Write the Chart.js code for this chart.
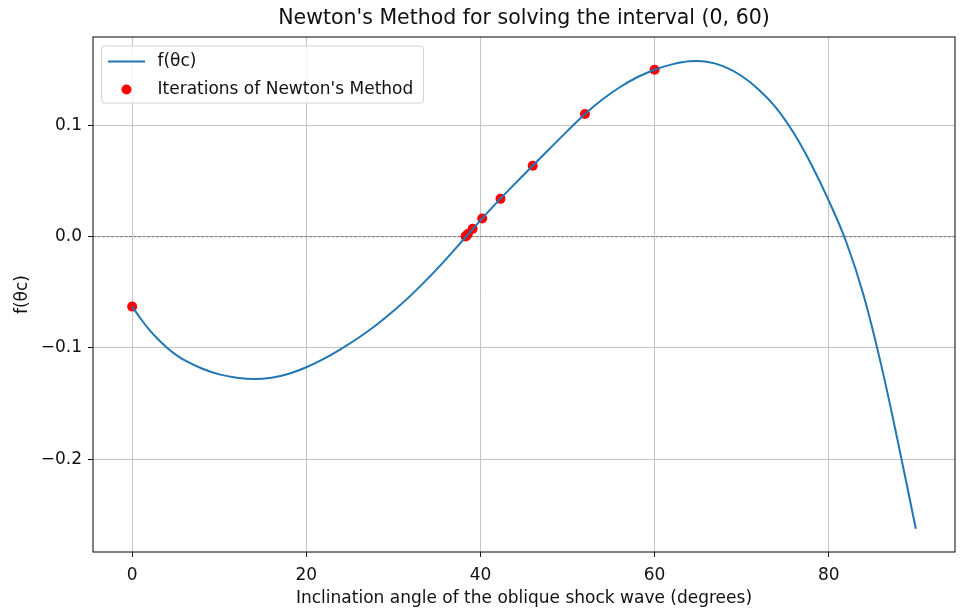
<!DOCTYPE html>
<html><head><meta charset="utf-8">
<script src="https://cdn.jsdelivr.net/npm/chart.js@4"></script>
<style>html,body{margin:0;padding:0;background:#fff}#wrap{width:975px;height:615px;position:relative}</style>
</head><body><div id="wrap"><canvas id="c"></canvas></div>
<script>
const chartTitle = "Newton's Method for solving the interval (0, 60)";
const xAxisLabel = "Inclination angle of the oblique shock wave (degrees)";
const yAxisLabel = "f(θc)";
const curveLabel = "f(θc)";
const iterLabel = "Iterations of Newton's Method";

const curveX = [0,1,2,3,4,5,6,8,10,12,14,16,18,20,22,24,26,28,30,32,34,36,38,40,42,44,46,48,50,52,54,56,58,60,62,64,66,68,70,72,74,76,78,80,82,84,86,88,90];
const curveY = [-0.0629,-0.0740,-0.0840,-0.0925,-0.0998,-0.1060,-0.1110,-0.1185,-0.1238,-0.1268,-0.1280,-0.1268,-0.1232,-0.1174,-0.1099,-0.1009,-0.0909,-0.0796,-0.0669,-0.0528,-0.0373,-0.0206,-0.0030,0.0147,0.0317,0.0479,0.0637,0.0795,0.0951,0.1103,0.1233,0.1343,0.1433,0.1501,0.1549,0.1577,0.1573,0.1529,0.1444,0.1319,0.1154,0.0929,0.0649,0.0324,-0.0046,-0.0526,-0.1146,-0.1866,-0.2626];

const iterX = [0, 60, 52.0, 46.0, 42.3, 40.2, 39.1, 38.55, 38.35, 38.29];
const iterY = [-0.0629, 0.1501, 0.1103, 0.0637, 0.0340, 0.0164, 0.0070, 0.0023, 0.0006, 0.0001];

const xTicks = [0, 20, 40, 60, 80];
const xTickLabels = ["0", "20", "40", "60", "80"];
const yTicks = [-0.2, -0.1, 0, 0.1];
const yTickLabels = ["\u22120.2", "\u22120.1", "0.0", "0.1"];
const xRange = [-4.5, 94.5];
const yRange = [-0.2835, 0.1795];

const FONT = '"DejaVu Sans", "Liberation Sans", sans-serif';
Chart.defaults.font.family = FONT;
Chart.defaults.color = '#111';

const curveData = curveX.map((x, i) => ({x: x, y: curveY[i]}));
const iterData = iterX.map((x, i) => ({x: x, y: iterY[i]}));

const decor = {
  id: 'decor',
  beforeDatasetsDraw(chart) {
    const ctx = chart.ctx, ca = chart.chartArea;
    const y0 = chart.scales.y.getPixelForValue(0);
    ctx.save();
    ctx.beginPath();
    ctx.rect(ca.left, ca.top, ca.right - ca.left, ca.bottom - ca.top);
    ctx.clip();
    ctx.strokeStyle = '#6e6e6e';
    ctx.lineWidth = 0.9;
    ctx.setLineDash([3, 1.5]);
    ctx.beginPath();
    ctx.moveTo(ca.left, y0);
    ctx.lineTo(ca.right, y0);
    ctx.stroke();
    ctx.restore();
  },
  afterDraw(chart) {
    const ctx = chart.ctx, ca = chart.chartArea;
    ctx.save();
    // title centred over the axes
    ctx.fillStyle = '#111';
    ctx.font = '20.5px ' + FONT;
    ctx.textAlign = 'center';
    ctx.textBaseline = 'middle';
    ctx.fillText(chartTitle, (ca.left + ca.right) / 2, 19);
    // frame
    ctx.strokeStyle = '#1a1a1a';
    ctx.lineWidth = 1.1;
    ctx.strokeRect(ca.left, ca.top, ca.right - ca.left, ca.bottom - ca.top);
    // legend
    const bx = ca.left + 8.5, by = ca.top + 9, bw = 322, bh = 57, r = 3;
    ctx.beginPath();
    ctx.moveTo(bx + r, by);
    ctx.lineTo(bx + bw - r, by);
    ctx.arcTo(bx + bw, by, bx + bw, by + r, r);
    ctx.lineTo(bx + bw, by + bh - r);
    ctx.arcTo(bx + bw, by + bh, bx + bw - r, by + bh, r);
    ctx.lineTo(bx + r, by + bh);
    ctx.arcTo(bx, by + bh, bx, by + bh - r, r);
    ctx.lineTo(bx, by + r);
    ctx.arcTo(bx, by, bx + r, by, r);
    ctx.closePath();
    ctx.fillStyle = 'rgba(255,255,255,0.8)';
    ctx.fill();
    ctx.strokeStyle = '#d3d3d3';
    ctx.lineWidth = 1;
    ctx.stroke();
    const ds = chart.data.datasets;
    const row1 = by + 15.5, row2 = by + 43.5;
    ctx.strokeStyle = ds[0].borderColor;
    ctx.lineWidth = 2;
    ctx.beginPath();
    ctx.moveTo(bx + 6.5, row1);
    ctx.lineTo(bx + 43.5, row1);
    ctx.stroke();
    ctx.fillStyle = ds[1].backgroundColor;
    ctx.beginPath();
    ctx.arc(bx + 25, row2, 5, 0, Math.PI * 2);
    ctx.fill();
    ctx.fillStyle = '#111';
    ctx.font = '17px ' + FONT;
    ctx.textBaseline = 'middle';
    ctx.textAlign = 'left';
    ctx.fillText(ds[0].label, bx + 56, row1);
    ctx.fillText(ds[1].label, bx + 56, row2);
    ctx.restore();
  }
};

new Chart(document.getElementById('c'), {
  type: 'scatter',
  data: {
    datasets: [
      {
        label: curveLabel,
        data: curveData,
        showLine: true,
        borderColor: '#1f77b4',
        backgroundColor: '#1f77b4',
        borderWidth: 2,
        pointRadius: 0,
        pointHoverRadius: 0,
        tension: 0.4,
        fill: false
      },
      {
        label: iterLabel,
        data: iterData,
        showLine: false,
        backgroundColor: '#ff0000',
        borderColor: '#ff0000',
        borderWidth: 0,
        pointRadius: 5,
        pointHoverRadius: 5
      }
    ]
  },
  options: {
    responsive: true,
    maintainAspectRatio: false,
    animation: false,
    layout: {padding: {left: 0, right: 20, top: 37, bottom: 0}},
    plugins: {
      legend: {display: false},
      tooltip: {enabled: false},
      title: {display: false}
    },
    scales: {
      x: {
        type: 'linear',
        min: xRange[0],
        max: xRange[1],
        afterBuildTicks: s => { s.ticks = xTicks.map(v => ({value: v})); },
        afterFit: s => { s.height = 63; },
        ticks: {
          autoSkip: false, maxRotation: 0, minRotation: 0,
          color: '#111', font: {size: 17, family: FONT}, padding: 8.5,
          callback: (v, i) => xTickLabels[i]
        },
        grid: {color: '#c4c4c4', lineWidth: 1, tickLength: 5, tickColor: '#1a1a1a', tickWidth: 1},
        border: {display: false},
        title: {display: true, text: xAxisLabel, color: '#111', font: {size: 17, family: FONT}, padding: {top: 0, bottom: 5.8}}
      },
      y: {
        type: 'linear',
        min: yRange[0],
        max: yRange[1],
        afterBuildTicks: s => { s.ticks = yTicks.map(v => ({value: v})); },
        afterFit: s => { s.width = 93; },
        ticks: {
          autoSkip: false,
          color: '#111', font: {size: 17, family: FONT}, padding: 6,
          callback: (v, i) => yTickLabels[i]
        },
        grid: {color: '#c4c4c4', lineWidth: 1, tickLength: 5, tickColor: '#1a1a1a', tickWidth: 1},
        border: {display: false},
        title: {display: true, text: yAxisLabel, color: '#111', font: {size: 17, family: FONT}, padding: {top: 12.8, bottom: 0}}
      }
    }
  },
  plugins: [decor]
});
</script>
</body></html>
